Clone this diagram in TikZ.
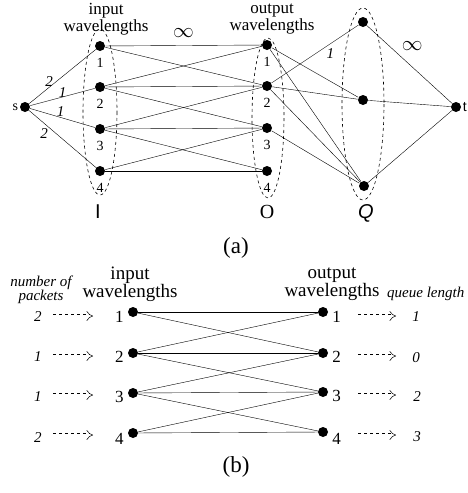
\documentclass[tikz,border=0pt]{standalone}
\usepackage{fontspec}
\setmainfont{Liberation Serif}
\newfontfamily\helv{Liberation Sans}
\usetikzlibrary{arrows.meta}
\pgfdeclarelayer{bg}
\pgfsetlayers{bg,main}
\tikzset{
    vertex/.style={circle, fill, inner sep=0mm, minimum size=10pt},
    every label/.style={shape=rectangle, draw=none, inner sep=1pt, font=\fontsize{14}{14}\selectfont}
}
\tikzset{
    wt/.style={font=\itshape\fontsize{15}{15}\selectfont, inner sep=1pt},
    inf/.style={font=\fontsize{20}{20}\selectfont},
    small/.style={font=\itshape\fontsize{15}{14}\selectfont, inner sep=0pt, align=center},
    heading/.style={font=\fontsize{17}{15}\selectfont, inner sep=0pt, align=center},
    bigheading/.style={font=\fontsize{19}{17}\selectfont, inner sep=0pt, align=center},
    group/.style={dashed, line width=.6pt},
    feed/.style={dashed, double, double distance=3pt, line width=.5pt, -{Implies}}
}

\begin{document}
\begin{tikzpicture}[x=1pt, y=-1pt, line width=.9pt]
    \useasboundingbox (0,0) rectangle (467,493);

    % (a) the flow network
    \node (s) [vertex, label=left:s] at (25,107) {};

    \node (i1) [vertex, label={[label distance=5pt]below:1}] at (100,46) {};
    \node (i2) [vertex, label={[label distance=5pt]below:2}] at (100,87) {};
    \node (i3) [vertex, label={[label distance=5pt]below:3}] at (100,129) {};
    \node (i4) [vertex, label={[label distance=5pt]below:4}] at (100,171) {};

    \node (o1) [vertex, label={[label distance=5pt]below:1}] at (267,45) {};
    \node (o2) [vertex, label={[label distance=5pt]below:2}] at (267,86) {};
    \node (o3) [vertex, label={[label distance=5pt]below:3}] at (267,128) {};
    \node (o4) [vertex, label={[label distance=5pt]below:4}] at (267,171) {};

    \node (q1) [vertex] at (363,22) {};
    \node (q2) [vertex] at (363,100) {};
    \node (q3) [vertex] at (364,186) {};

    \node (t) [vertex, label={[font=\helv\fontsize{14}{14}\selectfont]right:t}] at (456,107) {};

    \node (hi) [heading] at (106,19) {input\\wavelengths};
    \node (ho) [heading] at (272,19) {output\\wavelengths};

    \node (gi) [font=\helv\fontsize{20}{20}\selectfont] at (98,212) {I};
    \node (go) [font=\fontsize{20}{20}\selectfont] at (267,212) {O};
    \node (gq) [font=\helv\itshape\fontsize{20}{20}\selectfont] at (366,213) {Q};
    \node (ca) [font=\fontsize{23}{23}\selectfont] at (236,248) {(a)};

    \begin{pgfonlayer}{bg}
        \draw[group] (100,112) ellipse (17 and 83);
        \draw[group] (268,118) ellipse (16 and 80);
        \draw[group] (363,104) ellipse (21 and 96);

        \draw (s) edge node[wt, above, pos=.3] {2} (i1);
        \draw (s) edge node[wt, pos=.5, yshift=4pt] {1} (i2);
        \draw (s) edge node[wt, pos=.47, yshift=6pt] {1} (i3);
        \draw (s) edge node[wt, below left, pos=.3] {2} (i4);

        \draw (i1) edge node[inf, above=4pt] {$\infty$} (o1);
        \draw (i2) edge (o2);
        \draw (i3) edge (o3);
        \draw (i4) edge (o4);

        \draw (i1) edge (o2);
        \draw (i2) edge (o1);
        \draw (i2) edge (o3);
        \draw (i3) edge (o2);
        \draw (i3) edge (o4);
        \draw (i4) edge (o3);

        \draw (o1) edge (q2);
        \draw (o1) edge (q3);
        \draw (o2) edge node[wt, below right, pos=.62] {1} (q1);
        \draw (o2) edge (q2);
        \draw (o2) edge (q3);
        \draw (o3) edge (q3);

        \draw (q1) edge node[inf, above right, pos=.37] {$\infty$} (t);
        \draw (q2) edge (t);
        \draw (q3) edge (t);
    \end{pgfonlayer}

    % (b) the matching between wavelengths
    \tikzset{every label/.append style={font=\fontsize{17}{17}\selectfont}}
    \node (u1) [vertex, label={[label distance=3pt, yshift=-5pt]left:1}] at (133,312) {};
    \node (u2) [vertex, label={[label distance=3pt, yshift=-4pt]left:2}] at (133,353) {};
    \node (u3) [vertex, label={[label distance=3pt, yshift=-4pt]left:3}] at (133,393) {};
    \node (u4) [vertex, label={[label distance=3pt, yshift=-6pt]left:4}] at (133,433) {};

    \node (v1) [vertex, label={[label distance=3pt, yshift=-5pt]right:1}] at (323,312) {};
    \node (v2) [vertex, label={[label distance=3pt, yshift=-4pt]right:2}] at (323,353) {};
    \node (v3) [vertex, label={[label distance=3pt, yshift=-4pt]right:3}] at (323,392) {};
    \node (v4) [vertex, label={[label distance=3pt, yshift=-7pt]right:4}] at (323,432) {};

    \node (hu) [bigheading] at (130,284) {input\\wavelengths};
    \node (hv) [bigheading] at (332,284) {output\\wavelengths};
    \node (np) [small] at (41,290) {number of\\packets};
    \node (ql) [small, anchor=base west] at (387,297) {queue length};

    \node (n1) [wt] at (38,317) {2};
    \node (n2) [wt] at (38,357) {1};
    \node (n3) [wt] at (38,397) {1};
    \node (n4) [wt] at (38,438) {2};

    \node (m1) [wt] at (416,317) {1};
    \node (m2) [wt] at (416,358) {0};
    \node (m3) [wt] at (417,397) {2};
    \node (m4) [wt] at (417,437) {3};

    \coordinate (a1) at (53,316); \coordinate (b1) at (93,316);
    \coordinate (a2) at (53,356); \coordinate (b2) at (93,356);
    \coordinate (a3) at (53,395); \coordinate (b3) at (93,395);
    \coordinate (a4) at (53,435); \coordinate (b4) at (93,435);

    \coordinate (c1) at (358,316); \coordinate (d1) at (396,316);
    \coordinate (c2) at (358,356); \coordinate (d2) at (396,356);
    \coordinate (c3) at (358,395); \coordinate (d3) at (396,395);
    \coordinate (c4) at (358,435); \coordinate (d4) at (396,435);

    \node (cb) [font=\fontsize{23}{23}\selectfont] at (236,467) {(b)};

    \begin{pgfonlayer}{bg}
        \draw[feed] (a1) -- (b1);
        \draw[feed] (a2) -- (b2);
        \draw[feed] (a3) -- (b3);
        \draw[feed] (a4) -- (b4);

        \draw[feed] (c1) -- (d1);
        \draw[feed] (c2) -- (d2);
        \draw[feed] (c3) -- (d3);
        \draw[feed] (c4) -- (d4);

        \draw (u1) edge (v1);
        \draw (u2) edge (v2);
        \draw (u3) edge (v3);
        \draw (u4) edge (v4);

        \draw (u1) edge (v2);
        \draw (u2) edge (v1);
        \draw (u2) edge (v3);
        \draw (u3) edge (v2);
        \draw (u3) edge (v4);
        \draw (u4) edge (v3);
    \end{pgfonlayer}
\end{tikzpicture}
\end{document}
